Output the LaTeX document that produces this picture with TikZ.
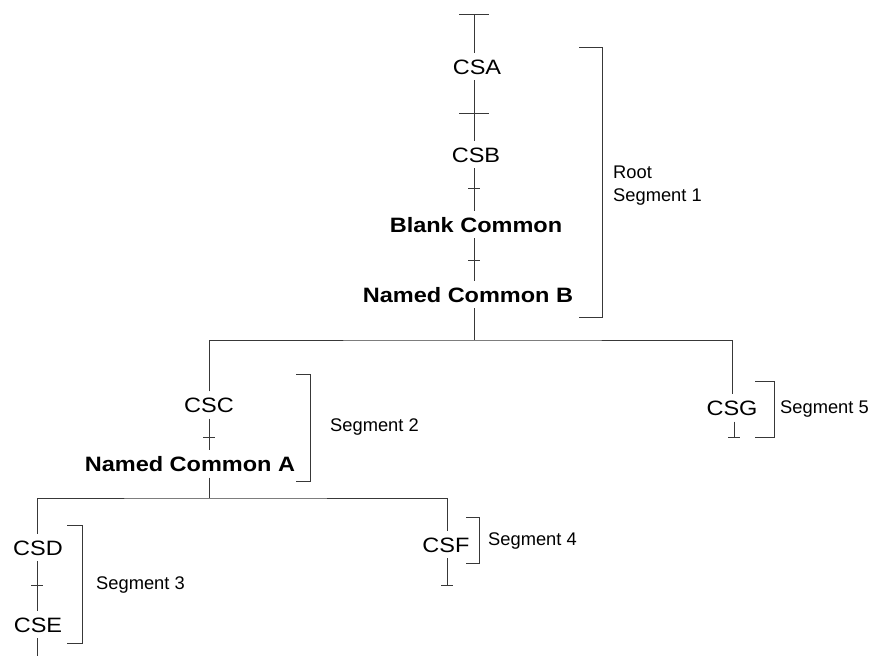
\documentclass[tikz,border=0pt]{standalone}
\usepackage{fontspec}
\setmainfont{Liberation Sans}
\newfontfamily\labfont[FakeStretch=1.13]{Liberation Sans}
\begin{document}
\begin{tikzpicture}[x=1pt,y=-1pt,
  lab/.style={font=\labfont\fontsize{20.8}{24}\selectfont, text height=15pt, text depth=0pt, inner xsep=0pt, inner ysep=6pt},
  blab/.style={lab, font=\labfont\fontsize{20.8}{24}\selectfont\bfseries},
  seg/.style={font=\fontsize{18.3}{23}\selectfont, anchor=west, inner sep=0pt, align=left},
  ln/.style={line width=0.85pt, draw=black!78},
]
\useasboundingbox (0,0) rectangle (871,656);
% root segment
\node[lab]  (csa)   at (477,66.5) {CSA};
\node[lab]  (csb)   at (476,154.5) {CSB};
\node[blab] (blank) at (476,224.5) {Blank Common};
\node[blab] (ncb)   at (468,294.5) {Named Common B};
\coordinate (top) at (474,14);
\coordinate (t1) at (474,113);
\coordinate (t2) at (474,188);
\coordinate (t3) at (474,260);
\coordinate (j1) at (474,340);
\draw[ln] ([xshift=-15]top) -- ([xshift=15]top);
\draw[ln] (top) -- (csa.north -| top);
\draw[ln] (csa.south -| top) -- (csb.north -| top);
\draw[ln] ([xshift=-15]t1) -- ([xshift=15]t1);
\draw[ln] (csb.south -| top) -- (blank.north -| top);
\draw[ln] ([xshift=-6]t2) -- ([xshift=6]t2);
\draw[ln] (blank.south -| top) -- (ncb.north -| top);
\draw[ln] ([xshift=-6]t3) -- ([xshift=6]t3);
\draw[ln] (ncb.south -| top) -- (j1);
\draw[ln] (579,47) -| (602,317) -- (579,317);
\node[seg] (root) at (613,185.5) {Root\\Segment 1};
% branch
\node[lab]  (csc) at (209,405) {CSC};
\node[blab] (nca) at (190,464) {Named Common A};
\node[lab]  (csg) at (732,408) {CSG};
\draw[ln] (csc.north) |- (j1) -| (csg.north);
\coordinate (t4) at (209,437);
\coordinate (j2) at (209,498);
\draw[ln] (csc.south) -- (nca.north -| csc);
\draw[ln] ([xshift=-6]t4) -- ([xshift=6]t4);
\draw[ln] (nca.south -| csc) -- (j2);
\draw[ln] (296,374) -| (310,481) -- (296,481);
\node[seg] (s2) at (330,427) {Segment 2};
% CSG
\coordinate (gb) at (734,437);
\draw[ln] (csg.south -| gb) -- (gb);
\draw[ln] ([xshift=-6]gb) -- ([xshift=6]gb);
\draw[ln] (755,381) -| (774,437) -- (755,437);
\node[seg] (s5) at (780,409) {Segment 5};
% lower branch
\node[lab] (csd) at (38,547.5) {CSD};
\node[lab] (cse) at (38,624.5) {CSE};
\node[lab] (csf) at (446,544.5) {CSF};
\coordinate (x3) at (37,0);
\coordinate (x4) at (447,0);
\draw[ln] (csd.north -| x3) |- (j2) -| (csf.north -| x4);
\coordinate (t5) at (37,585);
\draw[ln] (csd.south -| x3) -- (cse.north -| x3);
\draw[ln] ([xshift=-6]t5) -- ([xshift=6]t5);
\coordinate (bot) at (37,656);
\draw[ln] (cse.south -| x3) -- (bot);
\draw[ln] (67,525) -| (82,643) -- (67,643);
\node[seg] (s3) at (96,585) {Segment 3};
\coordinate (fb) at (447,585);
\draw[ln] (csf.south -| fb) -- (fb);
\draw[ln] ([xshift=-6]fb) -- ([xshift=6]fb);
\draw[ln] (466,517) -| (479,563) -- (466,563);
\node[seg] (s4) at (488,541) {Segment 4};
\end{tikzpicture}
\end{document}
